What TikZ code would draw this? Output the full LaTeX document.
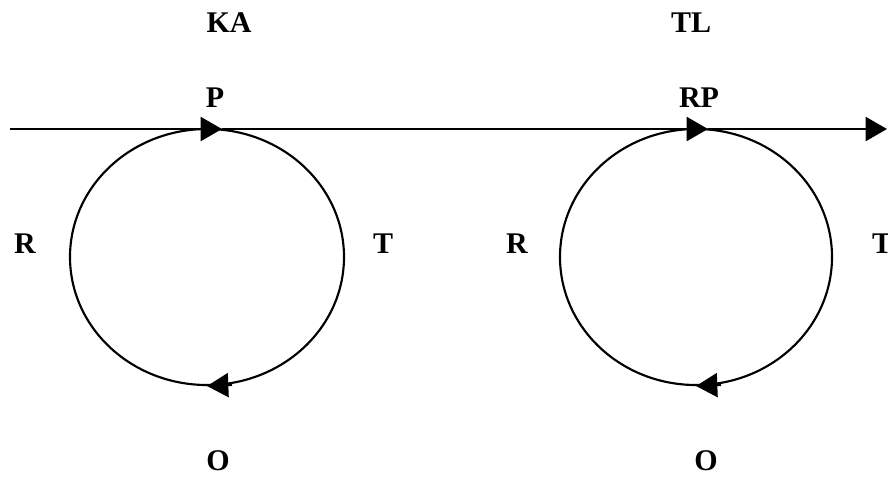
\documentclass[tikz,border=0pt]{standalone}
\usepackage{fontspec}
\setmainfont{Liberation Serif}
\usetikzlibrary{arrows.meta}
\begin{document}
\begin{tikzpicture}[x=0.75pt,y=-0.75pt,
  lbl/.style={font=\fontsize{22.5}{27}\selectfont\bfseries, inner sep=0pt},
  ln/.style={line width=1.6pt},
  tip/.style={ln,-{Triangle[length=16pt,width=18pt]}}]
\useasboundingbox (0,0) rectangle (888,480);
% coordinates
\coordinate (start) at (10,129);
\coordinate (p1) at (222,129);
\coordinate (p2) at (708,129);
\coordinate (end) at (887,129);
\coordinate (c1) at (207,257);
\coordinate (c2) at (696,257);
\coordinate (b1s) at (232,385);
\coordinate (b1t) at (207,386);
\coordinate (b2s) at (721,385);
\coordinate (b2t) at (696,386);
% circles
\draw[ln] (c1) ellipse [x radius=137, y radius=128];
\draw[ln] (c2) ellipse [x radius=136, y radius=128];
% main line
\draw[tip] (start) -- (p1);
\draw[tip] (p1) -- (p2);
\draw[tip] (p2) -- (end);
% bottom arrows
\draw[tip] (b1s) -- (b1t);
\draw[tip] (b2s) -- (b2t);
% labels
\node[lbl] (ka) at (229,23) {KA};
\node[lbl] (tl) at (691,23) {TL};
\node[lbl] (p) at (215,98) {P};
\node[lbl] (rp) at (699,98) {RP};
\node[lbl] (r1) at (25,244) {R};
\node[lbl] (t1) at (383,244) {T};
\node[lbl] (r2) at (517,244) {R};
\node[lbl] (t2) at (882,244) {T};
\node[lbl] (o1) at (218,461) {O};
\node[lbl] (o2) at (706,461) {O};
\end{tikzpicture}
\end{document}
